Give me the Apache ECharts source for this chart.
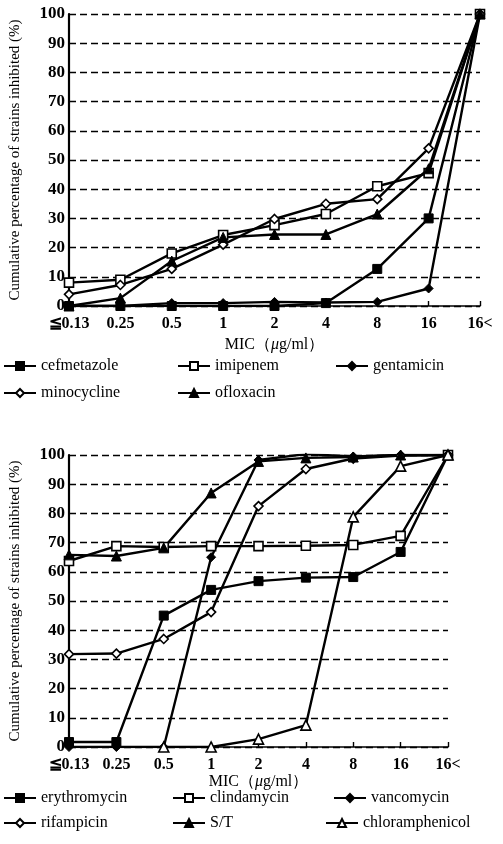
<!DOCTYPE html>
<html>
<head>
<meta charset="UTF-8">
<title>MIC cumulative</title>
<script src="https://cdn.jsdelivr.net/npm/echarts@6/dist/echarts.min.js"></script>
<style>
  html, body { margin: 0; padding: 0; background: #fff; }
  #main { width: 503px; height: 844px; }
</style>
</head>
<body>
<div id="main"></div>
<script>
// categories (MIC, ug/ml)
const mics = ['≦0.13', '0.25', '0.5', '1', '2', '4', '8', '16', '16<'];

// upper panel
const cefmetazole = [0, 0, 0, 0, 0, 1, 12.7, 30, 100];
const imipenem = [8, 9, 18, 24.3, 27.7, 31.5, 41, 45.5, 100];
const gentamicin = [0, 0, 1, 1, 1.4, 1.2, 1.4, 6, 100];
const minocycline = [4, 7.2, 12.7, 21, 29.8, 35, 36.6, 54, 100];
const ofloxacin = [0, 2.7, 15.4, 23.5, 24.5, 24.5, 31.5, 47, 100];

// lower panel
const erythromycin = [1.7, 1.7, 45, 53.8, 56.8, 58, 58.2, 66.8, 100];
const clindamycin = [63.7, 68.8, 68.5, 68.8, 68.8, 68.9, 69.2, 72.3, 100];
const vancomycin = [0, 0, 0, 65, 98.3, 100.3, 99.5, 100, 100];
const rifampicin = [31.8, 32, 37, 46.2, 82.5, 95.2, 98.8, 99.8, 100];
const st = [65.8, 65.4, 68.2, 87, 97.8, 99, 99.3, 100, 100];
const chloramphenicol = [null, null, 0, 0, 2.7, 7.5, 78.8, 96.2, 100];

const font = 'Liberation Serif';
let myChart = echarts.init(document.getElementById('main'));

function mkX(idx, gap) {
  return {
    type: 'category', gridIndex: idx, data: mics, boundaryGap: false,
    axisLine: { lineStyle: { color: '#000', width: 1.6 } },
    axisTick: { inside: true, length: 5, interval: 0, lineStyle: { color: '#000', width: 1.4 } },
    axisLabel: { color: '#000', fontFamily: font, fontSize: 16, fontWeight: 'bold', margin: 10, interval: 0 },
    name: 'MIC\uff08{i|μ}g/ml\uff09', nameLocation: 'middle', nameGap: gap,
    nameTextStyle: { color: '#000', fontFamily: font, fontSize: 16,
      rich: { i: { fontStyle: 'italic', fontFamily: font, fontSize: 16, color: '#000' } } }
  };
}
function mkY(idx) {
  return {
    type: 'value', gridIndex: idx, min: 0, max: 100, interval: 10,
    axisLine: { show: true, lineStyle: { color: '#000', width: 2.2 } },
    axisTick: { show: false },
    axisLabel: { color: '#000', fontFamily: font, fontSize: 17, fontWeight: 'bold', margin: 4 },
    splitLine: { lineStyle: { color: '#000', type: [7, 4], width: 1.3 } },
    name: 'Cumulative percentage of strains inhibited (%)', nameLocation: 'middle',
    nameRotate: 90, nameGap: 46,
    nameTextStyle: { color: '#000', fontFamily: font, fontSize: 15 }
  };
}
function line(name, data, symbol, filled, idx) {
  return {
    name: name, type: 'line', data: data, xAxisIndex: idx, yAxisIndex: idx,
    symbol: symbol, symbolSize: symbol === 'triangle' ? 10 : 9,
    showAllSymbol: true, connectNulls: false,
    lineStyle: { color: '#000', width: 2.4 },
    itemStyle: filled ? { color: '#000', borderColor: '#000', borderWidth: 1 }
                      : { color: '#fff', borderColor: '#000', borderWidth: 1.6 }
  };
}
function leg(name, left, top) {
  return {
    data: [name], left: left, top: top, itemWidth: 32, itemHeight: 10, padding: 0,
    textStyle: { color: '#000', fontFamily: font, fontSize: 16 }
  };
}

myChart.setOption({
  animation: false,
  backgroundColor: '#fff',
  grid: [
    { left: 62, top: 14, width: 418, height: 292 },
    { left: 62, top: 455, width: 386, height: 292 }
  ],
  xAxis: [mkX(0, 31), mkX(1, 23)],
  yAxis: [mkY(0), mkY(1)],
  legend: [
    leg('cefmetazole', 3, 358), leg('imipenem', 177, 358), leg('gentamicin', 335, 358),
    leg('minocycline', 3, 385), leg('ofloxacin', 177, 385),
    leg('erythromycin', 3, 790), leg('clindamycin', 172, 790), leg('vancomycin', 333, 790),
    leg('rifampicin', 3, 815), leg('S/T', 172, 815), leg('chloramphenicol', 325, 815)
  ],
  series: [
    line('cefmetazole', cefmetazole, 'rect', true, 0),
    line('imipenem', imipenem, 'rect', false, 0),
    line('gentamicin', gentamicin, 'diamond', true, 0),
    line('minocycline', minocycline, 'diamond', false, 0),
    line('ofloxacin', ofloxacin, 'triangle', true, 0),
    line('erythromycin', erythromycin, 'rect', true, 1),
    line('clindamycin', clindamycin, 'rect', false, 1),
    line('vancomycin', vancomycin, 'diamond', true, 1),
    line('rifampicin', rifampicin, 'diamond', false, 1),
    line('S/T', st, 'triangle', true, 1),
    line('chloramphenicol', chloramphenicol, 'triangle', false, 1)
  ]
});
</script>
</body>
</html>
